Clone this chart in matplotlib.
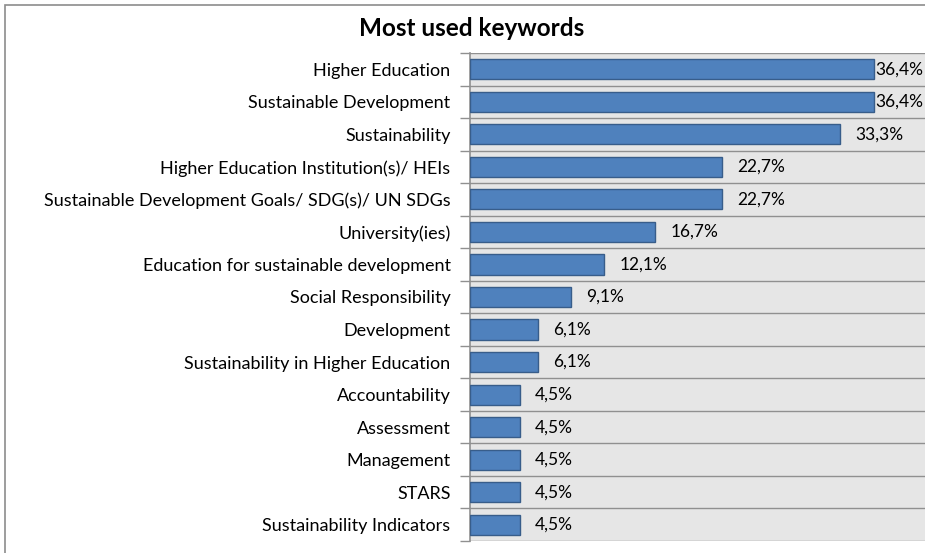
import matplotlib.pyplot as plt
from matplotlib.patches import Rectangle

keywords = ["Higher Education", "Sustainable Development", "Sustainability",
            "Higher Education Institution(s)/ HEIs",
            "Sustainable Development Goals/ SDG(s)/ UN SDGs",
            "University(ies)", "Education for sustainable development",
            "Social Responsibility", "Development",
            "Sustainability in Higher Education", "Accountability",
            "Assessment", "Management", "STARS", "Sustainability Indicators"]
share = [36.4, 36.4, 33.3, 22.7, 22.7, 16.7, 12.1, 9.1, 6.1, 6.1,
         4.5, 4.5, 4.5, 4.5, 4.5]

plt.rcParams['font.family'] = ['Lato', 'DejaVu Sans']

fig = plt.figure(figsize=(9.25, 5.53), dpi=100)
# outer chart border (cut off at right and bottom)
fig.patches.append(Rectangle((5/925, -0.1), 1.1, 1 - 5/553 + 0.1,
                             transform=fig.transFigure, fill=False,
                             edgecolor='#8c8c8c', linewidth=1.2))

ax = fig.add_axes([470/925, 1 - 541/553, 455/925, 488/553])
ax.set_facecolor('#e6e6e6')

n = len(keywords)
pos = list(range(n))
ax.barh(pos, share, height=0.62, color='#4f81bd', edgecolor='#385d8a',
        linewidth=1, zorder=3)
ax.set_ylim(n - 0.5, -0.5)
ax.set_xlim(0, 41)

for i, v in enumerate(share):
    off = 1 if v > 35 else 11
    ax.annotate(f"{v:.1f}%".replace('.', ','), (v, i), xytext=(off, 0),
                textcoords='offset points', va='center', ha='left',
                fontsize=12.5, zorder=4, annotation_clip=False)

# gridlines at category boundaries
for b in [k - 0.5 for k in range(n + 1)]:
    ax.axhline(b, color='#909090', linewidth=1.0, zorder=1)

ax.set_yticks(pos)
ax.set_yticklabels(keywords, fontsize=13)
ax.set_yticks([k - 0.5 for k in range(n + 1)], minor=True)
ax.tick_params(axis='y', which='major', length=0, pad=14)
ax.tick_params(axis='y', which='minor', length=7, color='#909090', width=1.0)
ax.set_xticks([])
for s in ['top', 'right', 'bottom']:
    ax.spines[s].set_visible(False)
ax.spines['left'].set_color('#909090')
ax.spines['left'].set_linewidth(1.2)

fig.text(472/925, 1 - 29/553, "Most used keywords", ha='center', va='center',
         fontsize=17.5, fontweight='bold')

fig.savefig("out.png", dpi=100)
